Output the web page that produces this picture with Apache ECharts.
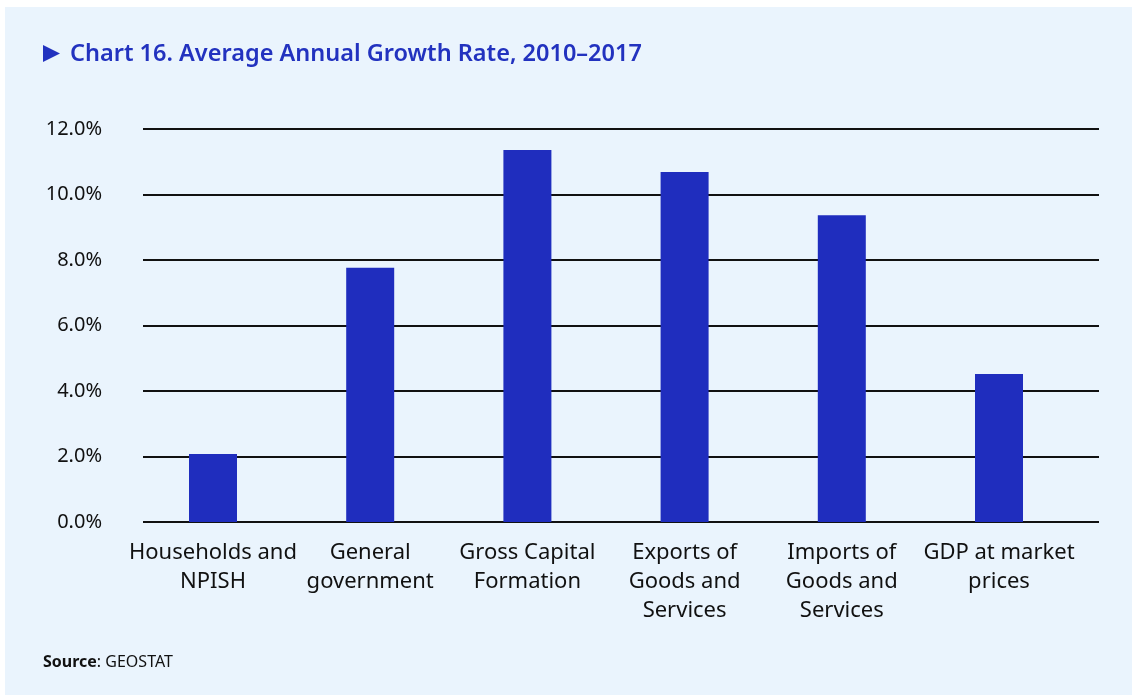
<!DOCTYPE html>
<html>
<head>
<meta charset="utf-8">
<script src="https://cdn.jsdelivr.net/npm/echarts@6/dist/echarts.min.js"></script>
<style>
  html, body { margin: 0; padding: 0; background: #ffffff; }
  #chart { width: 1132px; height: 695px; }
</style>
</head>
<body>
<div id="chart"></div>
<script>
// Average annual growth rate by expenditure component, 2010–2017 (%)
const categories = [
  'Households and\nNPISH',
  'General\ngovernment',
  'Gross Capital\nFormation',
  'Exports of\nGoods and\nServices',
  'Imports of\nGoods and\nServices',
  'GDP at market\nprices'
];
const growthRates = [2.08, 7.76, 11.36, 10.69, 9.37, 4.52];
const yTicks = { min: 0, max: 12, step: 2 };

const FONT = '"Noto Sans", "Open Sans", sans-serif';
const INK = '#111111';
const BLUE = '#1f2dbe';

const chart = echarts.init(document.getElementById('chart'), null, { renderer: 'canvas' });

chart.setOption({
  backgroundColor: '#ffffff',
  animation: false,
  graphic: [
    {
      type: 'rect',
      z: -10,
      shape: { x: 5, y: 7, width: 1127, height: 688 },
      style: { fill: '#eaf4fd' }
    },
    {
      type: 'polygon',
      shape: { points: [[43, 45], [60, 53.5], [43, 62]] },
      style: { fill: '#2232bf' }
    },
    {
      type: 'text',
      left: 70, top: 42,
      style: {
        text: 'Chart 16. Average Annual Growth Rate, 2010\u20132017',
        fill: '#2232bf',
        fontFamily: FONT,
        fontWeight: 600,
        fontSize: 23.5
      }
    },
    {
      type: 'text',
      left: 43, top: 654,
      style: {
        text: '{b|Source}{n|: GEOSTAT}',
        rich: {
          b: { fontWeight: 'bold', fontSize: 16, fontFamily: FONT, fill: INK },
          n: { fontWeight: 'normal', fontSize: 16, fontFamily: FONT, fill: INK }
        }
      }
    }
  ],
  grid: [
    // gridlines and value labels
    { left: 143, right: 33, top: 129, bottom: 173 },
    // bars and category labels
    { left: 134.4, right: 54.4, top: 129, bottom: 173 }
  ],
  xAxis: [
    { type: 'category', gridIndex: 0, data: categories, show: false },
    {
      type: 'category',
      gridIndex: 1,
      data: categories,
      axisLine: { show: false },
      axisTick: { show: false },
      axisLabel: {
        color: INK,
        fontFamily: FONT,
        fontSize: 22,
        lineHeight: 29,
        margin: 16,
        interval: 0
      }
    }
  ],
  yAxis: [
    {
      type: 'value',
      gridIndex: 0,
      min: yTicks.min,
      max: yTicks.max,
      interval: yTicks.step,
      axisLine: { show: false },
      axisTick: { show: false },
      splitLine: { lineStyle: { color: INK, width: 2 } },
      axisLabel: {
        color: INK,
        fontFamily: FONT,
        fontSize: 20,
        margin: 41,
        formatter: v => v.toFixed(1) + '%'
      }
    },
    {
      type: 'value',
      gridIndex: 1,
      min: yTicks.min,
      max: yTicks.max,
      interval: yTicks.step,
      show: false,
      splitLine: { show: false }
    }
  ],
  series: [{
    type: 'bar',
    xAxisIndex: 1,
    yAxisIndex: 1,
    data: growthRates,
    barWidth: 48,
    itemStyle: { color: BLUE }
  }]
});
</script>
</body>
</html>
